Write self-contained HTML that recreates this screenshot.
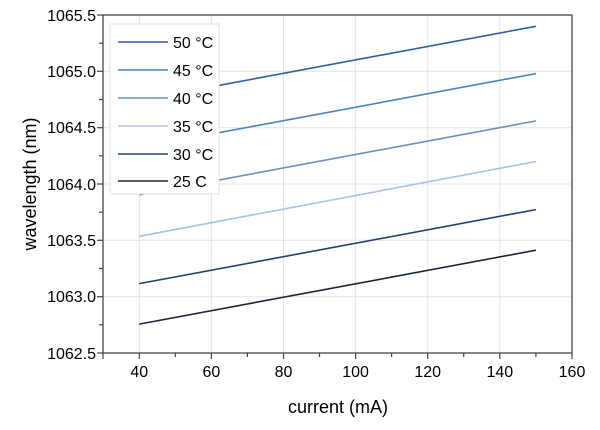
<!DOCTYPE html><html><head><style>body{margin:0;background:#fff}</style></head><body>
<svg width="600" height="425" xmlns="http://www.w3.org/2000/svg" font-family="Liberation Sans, sans-serif">
<g stroke="#e4e4e4" stroke-width="1">
<line x1="139.3" y1="15" x2="139.3" y2="353"/><line x1="211.4" y1="15" x2="211.4" y2="353"/><line x1="283.5" y1="15" x2="283.5" y2="353"/><line x1="355.6" y1="15" x2="355.6" y2="353"/><line x1="427.7" y1="15" x2="427.7" y2="353"/><line x1="499.8" y1="15" x2="499.8" y2="353"/>
<line x1="103" y1="71.3" x2="572" y2="71.3"/><line x1="103" y1="127.7" x2="572" y2="127.7"/><line x1="103" y1="184" x2="572" y2="184"/><line x1="103" y1="240.3" x2="572" y2="240.3"/><line x1="103" y1="296.7" x2="572" y2="296.7"/>
</g>
<g stroke-width="1.6" fill="none">
<line x1="139.3" y1="100.2" x2="535.9" y2="26.3" stroke="#2f5e9e"/>
<line x1="139.3" y1="147.5" x2="535.9" y2="73.6" stroke="#4a80c4"/>
<line x1="139.3" y1="194.9" x2="535.9" y2="120.9" stroke="#6a8fbf"/>
<line x1="139.3" y1="236.3" x2="535.9" y2="161.5" stroke="#a6c3e6"/>
<line x1="139.3" y1="283.6" x2="535.9" y2="209.6" stroke="#22406e"/>
<line x1="139.3" y1="324.1" x2="535.9" y2="250.2" stroke="#1c2438"/>
</g>
<rect x="110" y="24" width="109" height="170" fill="#fff" stroke="#e0e0e0"/>
<g stroke-width="1.6">
<line x1="118" y1="42" x2="168" y2="42" stroke="#2f5e9e"/>
<line x1="118" y1="70" x2="168" y2="70" stroke="#4a80c4"/>
<line x1="118" y1="98" x2="168" y2="98" stroke="#6a8fbf"/>
<line x1="118" y1="126" x2="168" y2="126" stroke="#a6c3e6"/>
<line x1="118" y1="154" x2="168" y2="154" stroke="#22406e"/>
<line x1="118" y1="181" x2="168" y2="181" stroke="#1c2438"/>
</g>
<g font-size="16" fill="#000">
<text x="173" y="48">50 °C</text><text x="173" y="76">45 °C</text><text x="173" y="104">40 °C</text><text x="173" y="132">35 °C</text><text x="173" y="160">30 °C</text><text x="173" y="187">25 C</text>
</g>
<rect x="103" y="15" width="469" height="338" fill="none" stroke="#444" stroke-width="1.3"/>
<g stroke="#444" stroke-width="1.2">
<line x1="103" y1="353" x2="103" y2="359"/><line x1="139.3" y1="353" x2="139.3" y2="359"/><line x1="175.3" y1="353" x2="175.3" y2="357"/><line x1="211.4" y1="353" x2="211.4" y2="359"/><line x1="247.4" y1="353" x2="247.4" y2="357"/><line x1="283.5" y1="353" x2="283.5" y2="359"/><line x1="319.5" y1="353" x2="319.5" y2="357"/><line x1="355.6" y1="353" x2="355.6" y2="359"/><line x1="391.6" y1="353" x2="391.6" y2="357"/><line x1="427.7" y1="353" x2="427.7" y2="359"/><line x1="463.7" y1="353" x2="463.7" y2="357"/><line x1="499.8" y1="353" x2="499.8" y2="359"/><line x1="535.9" y1="353" x2="535.9" y2="357"/><line x1="572" y1="353" x2="572" y2="359"/>
<line x1="97" y1="15" x2="103" y2="15"/><line x1="99" y1="43.2" x2="103" y2="43.2"/><line x1="97" y1="71.3" x2="103" y2="71.3"/><line x1="99" y1="99.5" x2="103" y2="99.5"/><line x1="97" y1="127.7" x2="103" y2="127.7"/><line x1="99" y1="155.8" x2="103" y2="155.8"/><line x1="97" y1="184" x2="103" y2="184"/><line x1="99" y1="212.2" x2="103" y2="212.2"/><line x1="97" y1="240.3" x2="103" y2="240.3"/><line x1="99" y1="268.5" x2="103" y2="268.5"/><line x1="97" y1="296.7" x2="103" y2="296.7"/><line x1="99" y1="324.8" x2="103" y2="324.8"/><line x1="97" y1="353" x2="103" y2="353"/>
</g>
<g font-size="16" fill="#000" text-anchor="end">
<text x="96" y="21">1065.5</text><text x="96" y="77">1065.0</text><text x="96" y="133">1064.5</text><text x="96" y="190">1064.0</text><text x="96" y="246">1063.5</text><text x="96" y="302">1063.0</text><text x="96" y="359">1062.5</text>
</g>
<g font-size="16" fill="#000" text-anchor="middle">
<text x="139.3" y="377">40</text><text x="211.4" y="377">60</text><text x="283.5" y="377">80</text><text x="355.6" y="377">100</text><text x="427.7" y="377">120</text><text x="499.8" y="377">140</text><text x="572" y="377">160</text>
<text x="338" y="413" font-size="18">current (mA)</text>
<text transform="translate(36,184) rotate(-90)" font-size="18">wavelength (nm)</text>
</g>
</svg></body></html>
